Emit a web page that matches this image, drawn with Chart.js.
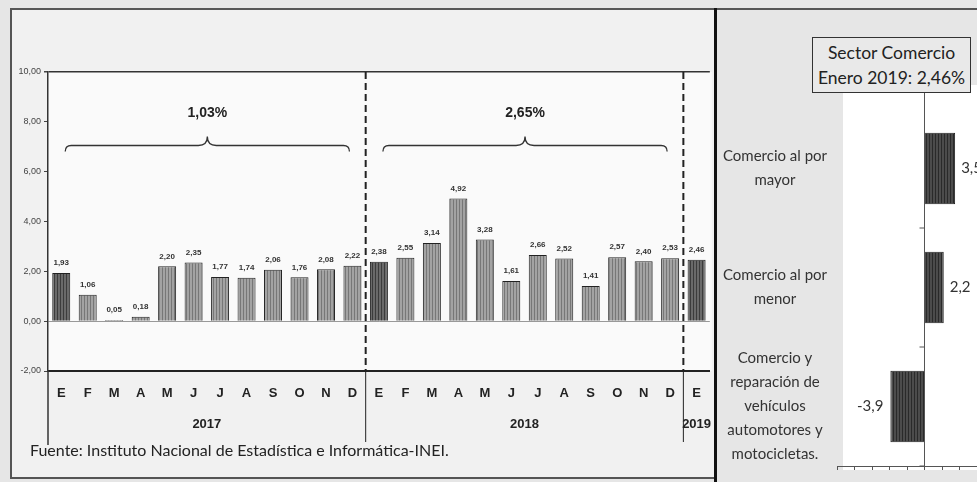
<!DOCTYPE html>
<html>
<head>
<meta charset="utf-8">
<script src="https://cdn.jsdelivr.net/npm/chart.js@4.4.1/dist/chart.umd.min.js"></script>
<style>
body { margin: 0; width: 977px; height: 482px; background: #e6e6e6; overflow: hidden; position: relative; font-family: Lato, sans-serif; }
#panelIzq { position: absolute; left: 11px; top: 10px; width: 704px; height: 468px; background: #f1f1f1; }
#izq { position: absolute; left: 0; top: 0; }
#der { position: absolute; left: 716px; top: 85px; }
.linea { position: absolute; background: #555; }
#titulo { position: absolute; left: 812px; top: 37px; width: 157px; height: 52px; border: 1.5px solid #333; background: #e9e9e9;
  text-align: center; font-family: Lato, sans-serif; font-size: 17.5px; line-height: 25px; color: #222; padding-top: 2px; white-space: nowrap; }
#fuente { position: absolute; left: 30px; top: 440px; font-family: Lato, sans-serif; font-size: 16px; color: #222; }
</style>
</head>
<body>
<div id="panelIzq"></div>
<canvas id="izq" width="716" height="482"></canvas>
<canvas id="der" width="261" height="397"></canvas>
<div class="linea" style="left:10px;top:8px;width:967px;height:2px"></div>
<div class="linea" style="left:10px;top:8px;width:1.5px;height:471px"></div>
<div class="linea" style="left:10px;top:477px;width:706px;height:1.5px"></div>
<div class="linea" style="left:714px;top:8px;width:3px;height:474px;background:#111"></div>
<div id="titulo">Sector Comercio<br>Enero 2019: 2,46%</div>
<div id="fuente">Fuente: Instituto Nacional de Estadística e Informática-INEI.</div>
<script>
// meses de enero 2017 a enero 2019
const meses = ['E','F','M','A','M','J','J','A','S','O','N','D',
               'E','F','M','A','M','J','J','A','S','O','N','D','E'];
const variacion = [1.93, 1.06, 0.05, 0.18, 2.20, 2.35, 1.77, 1.74, 2.06, 1.76, 2.08, 2.22,
                   2.38, 2.55, 3.14, 4.92, 3.28, 1.61, 2.66, 2.52, 1.41, 2.57, 2.40, 2.53,
                   2.46];
const anios = ['2017', '2018', '2019'];
const aniosDesde = [0, 12, 24];
const aniosHasta = [11, 23, 24];
const promedios = ['1,03%', '2,65%'];

const ramas = [['Comercio al por', 'mayor'], ['Comercio al por', 'menor'],
               ['Comercio y', 'reparación de', 'vehículos', 'automotores y', 'motocicletas.']];
const ramaValores = [3.5, 2.2, -3.9];
const ramaEtiquetas = ['3,5', '2,2', '-3,9'];

function trama(fondo, raya) {
    const c = document.createElement('canvas');
    c.width = 3; c.height = 2;
    const g = c.getContext('2d');
    g.fillStyle = fondo; g.fillRect(0, 0, 3, 2);
    g.fillStyle = raya; g.fillRect(0, 0, 1, 2);
    return g.createPattern(c, 'repeat');
}
const claro = trama('#a3a3a3', '#777');
const oscuro = trama('#6a6a6a', '#3c3c3c');

const coma = (v, d) => v.toFixed(d).replace('.', ',');

function llave(ctx, x1, x2, y) {
    const xm = (x1 + x2) / 2, h = 6, p = 9;
    ctx.beginPath();
    ctx.moveTo(x1, y + h);
    ctx.quadraticCurveTo(x1, y, x1 + h, y);
    ctx.lineTo(xm - p, y);
    ctx.quadraticCurveTo(xm, y, xm, y - p);
    ctx.quadraticCurveTo(xm, y, xm + p, y);
    ctx.lineTo(x2 - h, y);
    ctx.quadraticCurveTo(x2, y, x2, y + h);
    ctx.stroke();
}

const extrasIzq = {
    id: 'extrasIzq',
    beforeDraw(chart) {
        const { ctx, chartArea: a } = chart;
        ctx.save();
        ctx.fillStyle = '#fafafa';
        ctx.fillRect(a.left, a.top, a.right - a.left + 2, a.bottom - a.top);
        ctx.restore();
    },
    afterDraw(chart) {
        const { ctx, chartArea: a, scales: { x, y } } = chart;
        ctx.save();
        // eje vertical prolongado hacia abajo
        ctx.strokeStyle = '#333'; ctx.lineWidth = 1.5;
        ctx.beginPath(); ctx.moveTo(a.left, a.bottom); ctx.lineTo(a.left, 445); ctx.stroke();

        // separadores de año
        [11, 23].forEach(i => {
            const xb = (x.getPixelForValue(i) + x.getPixelForValue(i + 1)) / 2;
            ctx.strokeStyle = '#222';
            ctx.lineWidth = 2; ctx.setLineDash([7, 4]);
            ctx.beginPath(); ctx.moveTo(xb, a.top); ctx.lineTo(xb, a.bottom); ctx.stroke();
            ctx.setLineDash([]); ctx.lineWidth = 1;
            ctx.beginPath(); ctx.moveTo(xb, a.bottom); ctx.lineTo(xb, 442); ctx.stroke();
        });

        // años
        ctx.fillStyle = '#222';
        ctx.font = 'bold 13px "Liberation Sans Narrow", "Liberation Sans", sans-serif';
        ctx.textAlign = 'center'; ctx.textBaseline = 'middle';
        anios.forEach((t, k) => {
            const xc = (x.getPixelForValue(aniosDesde[k]) + x.getPixelForValue(aniosHasta[k])) / 2;
            ctx.fillText(t, xc, 424);
        });

        // llaves con el promedio de cada año
        ctx.strokeStyle = '#333'; ctx.lineWidth = 1.3;
        ctx.font = 'bold 14px "Liberation Sans Narrow", "Liberation Sans", sans-serif';
        promedios.forEach((t, k) => {
            const x1 = x.getPixelForValue(aniosDesde[k]) + 4;
            const x2 = x.getPixelForValue(aniosHasta[k]) - 3;
            llave(ctx, x1, x2, y.getPixelForValue(7.05));
            ctx.fillText(t, (x1 + x2) / 2, y.getPixelForValue(8.35));
        });

        // valores sobre las barras
        ctx.font = 'bold 8px "Liberation Sans", sans-serif';
        ctx.fillStyle = '#333';
        chart.getDatasetMeta(0).data.forEach((bar, i) => {
            ctx.fillText(coma(variacion[i], 2), bar.x, bar.y - 10);
        });
        ctx.restore();
    }
};

new Chart(document.getElementById('izq'), {
    type: 'bar',
    data: {
        labels: meses,
        datasets: [{
            data: variacion,
            backgroundColor: variacion.map((_, i) => i % 12 === 0 ? oscuro : claro),
            borderColor: '#222',
            borderWidth: 1,
            barPercentage: 0.68,
            categoryPercentage: 1
        }]
    },
    options: {
        responsive: false,
        animation: false,
        layout: { padding: { top: 72, right: 3, left: 0, bottom: 0 } },
        plugins: { legend: { display: false }, tooltip: { enabled: false } },
        scales: {
            x: {
                grid: { display: false, drawTicks: false },
                border: { color: '#222', width: 2 },
                ticks: {
                    autoSkip: false, maxRotation: 0, padding: 15, color: '#222',
                    font: { family: '"Liberation Sans Narrow", "Liberation Sans", sans-serif', size: 13, weight: 'bold' }
                },
                afterFit(s) { s.height = 111; }
            },
            y: {
                min: -2, max: 10,
                ticks: {
                    stepSize: 2, padding: 3, color: '#444',
                    font: { family: '"Liberation Sans", sans-serif', size: 9 },
                    callback: v => coma(v, 2)
                },
                grid: {
                    color: c => c.tick.value === 0 ? '#999' : (c.tick.value === 10 ? '#333' : 'transparent'),
                    lineWidth: c => c.tick.value === 10 ? 1.5 : 1,
                    tickColor: '#444', tickLength: 4
                },
                border: { color: '#333', width: 1.5 },
                afterFit(s) { s.width = 48; }
            }
        }
    },
    plugins: [extrasIzq]
});

const extrasDer = {
    id: 'extrasDer',
    beforeDraw(chart) {
        const { ctx, chartArea: a } = chart;
        ctx.save();
        ctx.fillStyle = '#ffffff';
        ctx.fillRect(a.left + 6, 0, a.right - a.left, a.bottom + 4);
        ctx.restore();
    },
    afterDraw(chart) {
        const { ctx, chartArea: a, scales: { x, y } } = chart;
        const x0 = x.getPixelForValue(0);
        const paso = y.getPixelForValue(1) - y.getPixelForValue(0);
        ctx.save();
        // eje del cero con marcas entre categorías
        ctx.strokeStyle = '#555'; ctx.lineWidth = 1;
        ctx.beginPath(); ctx.moveTo(x0, 5); ctx.lineTo(x0, a.bottom); ctx.stroke();
        ctx.beginPath(); ctx.moveTo(x0 - 5, 5); ctx.lineTo(x0, 5); ctx.stroke();
        for (let i = 1; i <= ramas.length; i++) {
            const yb = y.getPixelForValue(i - 1) + paso / 2;
            ctx.beginPath(); ctx.moveTo(x0 - 5, yb); ctx.lineTo(x0, yb); ctx.stroke();
        }
        // nombres de las ramas
        ctx.fillStyle = '#333';
        ctx.font = '15px Lato, sans-serif';
        ctx.textAlign = 'center'; ctx.textBaseline = 'middle';
        ramas.forEach((lineas, i) => {
            const yc = y.getPixelForValue(i);
            lineas.forEach((t, j) => {
                ctx.fillText(t, 59, yc + (j - (lineas.length - 1) / 2) * 24);
            });
        });
        // valores
        ctx.font = '15px Lato, sans-serif';
        chart.getDatasetMeta(0).data.forEach((bar, i) => {
            if (ramaValores[i] >= 0) {
                ctx.textAlign = 'left';
                ctx.fillText(ramaEtiquetas[i], bar.x + 6, bar.y);
            } else {
                ctx.textAlign = 'right';
                ctx.fillText(ramaEtiquetas[i], bar.x - 7, bar.y);
            }
        });
        ctx.restore();
    }
};

new Chart(document.getElementById('der'), {
    type: 'bar',
    data: {
        labels: ramas.map(r => r.join(' ')),
        datasets: [{
            data: ramaValores,
            backgroundColor: trama('#4c4c4c', '#2a2a2a'),
            borderColor: '#222',
            borderWidth: 1,
            barPercentage: 0.6,
            categoryPercentage: 1
        }]
    },
    options: {
        indexAxis: 'y',
        responsive: false,
        animation: false,
        layout: { padding: { top: 24, left: 0, right: 0, bottom: 0 } },
        plugins: { legend: { display: false }, tooltip: { enabled: false } },
        scales: {
            x: {
                min: -10, max: 6,
                ticks: { stepSize: 2, display: false },
                grid: { drawOnChartArea: false, tickLength: 4, color: '#555' },
                border: { color: '#555', width: 1 },
                afterFit(s) { s.height = 16; }
            },
            y: {
                grid: { display: false, drawTicks: false },
                border: { display: false },
                ticks: { display: false },
                afterFit(s) { s.width = 121; s.paddingTop = 0; s.paddingBottom = 0; }
            }
        }
    },
    plugins: [extrasDer]
});
</script>
</body>
</html>
